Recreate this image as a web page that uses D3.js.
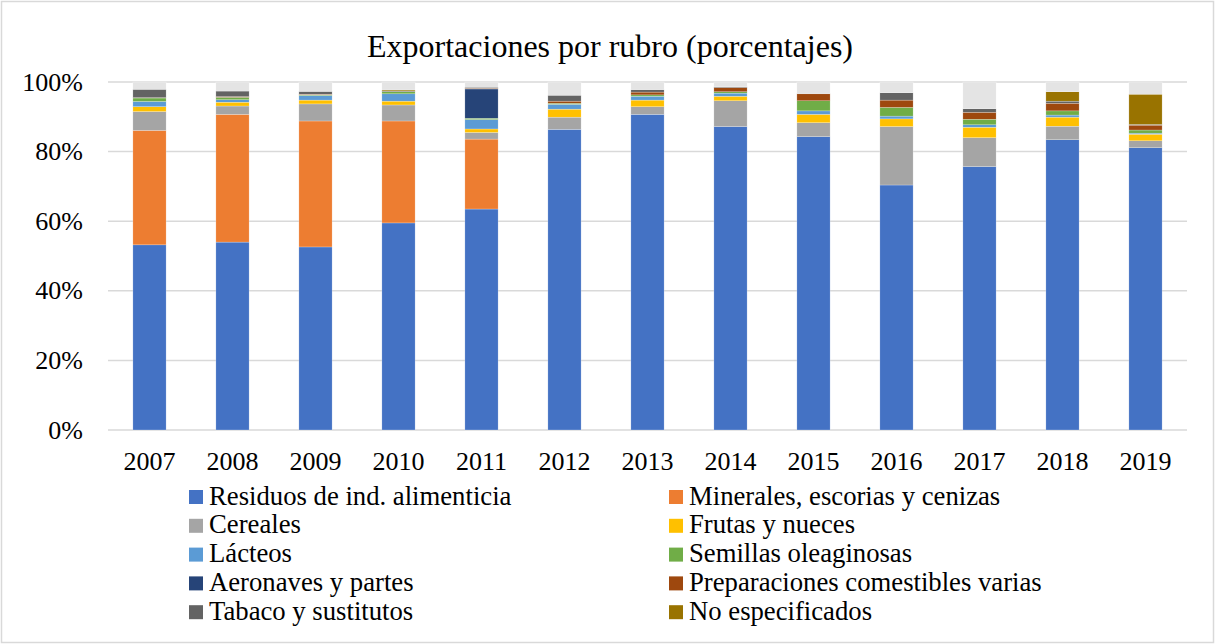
<!DOCTYPE html>
<html>
<head>
<meta charset="utf-8">
<script src="https://cdn.jsdelivr.net/npm/d3@7"></script>
<style>
  body { margin: 0; background: #fff; }
  svg text { font-family: "Times New Roman", "Liberation Serif", Tinos, "DejaVu Serif", serif; }
</style>
</head>
<body>
<div id="chart"></div>
<script>
// data (percent of exports per year)
const years = ["2007", "2008", "2009", "2010", "2011", "2012", "2013", "2014", "2015", "2016", "2017", "2018", "2019"];
const residuos       = [53.2, 54.0, 52.6, 59.5, 63.5, 86.4, 90.7, 87.2, 84.3, 70.4, 75.7, 83.4, 81.1];
const minerales      = [32.9, 36.7, 36.2, 29.3, 20.1, 0, 0, 0, 0, 0, 0, 0, 0];
const cereales       = [5.4, 2.4, 4.9, 4.6, 1.9, 3.5, 2.2, 7.4, 4.0, 16.8, 8.3, 3.9, 2.0];
const frutas         = [1.4, 1.1, 1.1, 1.1, 1.0, 2.3, 1.9, 1.3, 2.4, 2.2, 3.0, 2.6, 1.9];
const lacteos        = [1.5, 0.7, 1.3, 2.1, 2.7, 1.4, 1.1, 0.9, 1.0, 0.8, 0.7, 0.6, 0.3];
const semillas       = [1.0, 0.7, 0.2, 0.6, 0.4, 0.3, 0.4, 0.4, 2.9, 2.5, 1.6, 1.2, 0.9];
const aeronaves      = [0, 0, 0, 0, 8.4, 0, 0, 0, 0, 0, 0, 0, 0];
const preparaciones  = [0.1, 0.2, 0.2, 0, 0.2, 0.6, 0.8, 1.2, 2.0, 2.1, 2.0, 2.2, 1.4];
const tabaco         = [2.4, 1.6, 0.8, 0.2, 0.3, 1.7, 0.7, 0.2, 0.1, 2.1, 1.0, 0.6, 0.2];
const noEspecificado = [0, 0, 0, 0.3, 0, 0, 0, 0, 0, 0, 0, 2.7, 8.7];
const otros          = [2.1, 2.6, 2.7, 2.3, 1.5, 3.8, 2.2, 1.4, 3.3, 3.1, 7.7, 2.8, 3.5]; // light grey cap, not in legend
const yTicks = [0, 20, 40, 60, 80, 100];

const series = [
  { key: "residuos", name: "Residuos de ind. alimenticia", values: residuos, color: "#4472C4" },
  { key: "minerales", name: "Minerales, escorias y cenizas", values: minerales, color: "#ED7D31" },
  { key: "cereales", name: "Cereales", values: cereales, color: "#A5A5A5" },
  { key: "frutas", name: "Frutas y nueces", values: frutas, color: "#FFC000" },
  { key: "lacteos", name: "Lácteos", values: lacteos, color: "#5B9BD5" },
  { key: "semillas", name: "Semillas oleaginosas", values: semillas, color: "#70AD47" },
  { key: "aeronaves", name: "Aeronaves y partes", values: aeronaves, color: "#264478" },
  { key: "preparaciones", name: "Preparaciones comestibles varias", values: preparaciones, color: "#9E480E" },
  { key: "tabaco", name: "Tabaco y sustitutos", values: tabaco, color: "#636363" },
  { key: "noesp", name: "No especificados", values: noEspecificado, color: "#997300" },
  { key: "otros", name: null, values: otros, color: "#E4E4E4" }
];

const width = 1215, height = 644;
const margin = { top: 82, right: 28, bottom: 214, left: 108 };
const serif = "'Times New Roman', 'Liberation Serif', Tinos, 'DejaVu Serif', serif";

const svg = d3.select("#chart").append("svg")
    .attr("width", width)
    .attr("height", height);

// outer chart border
svg.append("rect")
    .attr("x", 1.5).attr("y", 1.5)
    .attr("width", width - 3).attr("height", height - 3)
    .attr("fill", "#fff")
    .attr("stroke", "#d9d9d9")
    .attr("stroke-width", 1.5);

svg.append("text")
    .attr("x", 610)
    .attr("y", 57)
    .attr("text-anchor", "middle")
    .attr("font-family", serif)
    .style("font-size", "32px")
    .text("Exportaciones por rubro (porcentajes)");

const x = d3.scaleBand()
    .domain(years)
    .range([margin.left, width - margin.right])
    .paddingInner(0.6)
    .paddingOuter(0.3);

const y = d3.scaleLinear()
    .domain([0, 100])
    .range([height - margin.bottom, margin.top]);

// gridlines
svg.append("g")
    .selectAll("line")
    .data(yTicks)
    .enter().append("line")
    .attr("x1", margin.left)
    .attr("x2", width - margin.right)
    .attr("y1", d => y(d))
    .attr("y2", d => y(d))
    .style("stroke", "#d9d9d9")
    .style("stroke-width", 1.5);

// stacked bars
const table = years.map((yr, i) => {
  const row = { year: yr };
  series.forEach(s => { row[s.key] = s.values[i]; });
  return row;
});
const stacked = d3.stack().keys(series.map(s => s.key))(table);

svg.append("g")
    .selectAll("g")
    .data(stacked)
    .enter().append("g")
    .attr("fill", (d, i) => series[i].color)
    .selectAll("rect")
    .data(d => d)
    .enter().append("rect")
    .attr("x", d => x(d.data.year))
    .attr("width", x.bandwidth())
    .attr("y", d => y(d[1]))
    .attr("height", d => y(d[0]) - y(d[1]))
    .attr("stroke", "#fff")
    .attr("stroke-width", 0.4)
    .attr("stroke-opacity", 0.6);

// y labels
svg.append("g")
    .selectAll("text")
    .data(yTicks)
    .enter().append("text")
    .attr("x", 83)
    .attr("y", d => y(d) + 8.5)
    .attr("text-anchor", "end")
    .attr("font-family", serif)
    .style("font-size", "26px")
    .text(d => d + "%");

// x labels
svg.append("g")
    .selectAll("text")
    .data(years)
    .enter().append("text")
    .attr("x", d => x(d) + x.bandwidth() / 2)
    .attr("y", 470)
    .attr("text-anchor", "middle")
    .attr("font-family", serif)
    .style("font-size", "26px")
    .text(d => d);

// legend, two columns
const legendItems = series.filter(s => s.name);
const legend = svg.append("g")
    .selectAll("g")
    .data(legendItems)
    .enter().append("g")
    .attr("transform", (d, i) => {
      const col = i % 2, row = Math.floor(i / 2);
      return "translate(" + (col === 0 ? 189 : 669) + "," + (497 + row * 28.8) + ")";
    });

legend.append("rect")
    .attr("x", 0)
    .attr("y", -7)
    .attr("width", 14)
    .attr("height", 14)
    .attr("fill", d => d.color);

legend.append("text")
    .attr("x", 20)
    .attr("y", 7.5)
    .attr("font-family", serif)
    .style("font-size", "26.7px")
    .text(d => d.name);
</script>
</body>
</html>
